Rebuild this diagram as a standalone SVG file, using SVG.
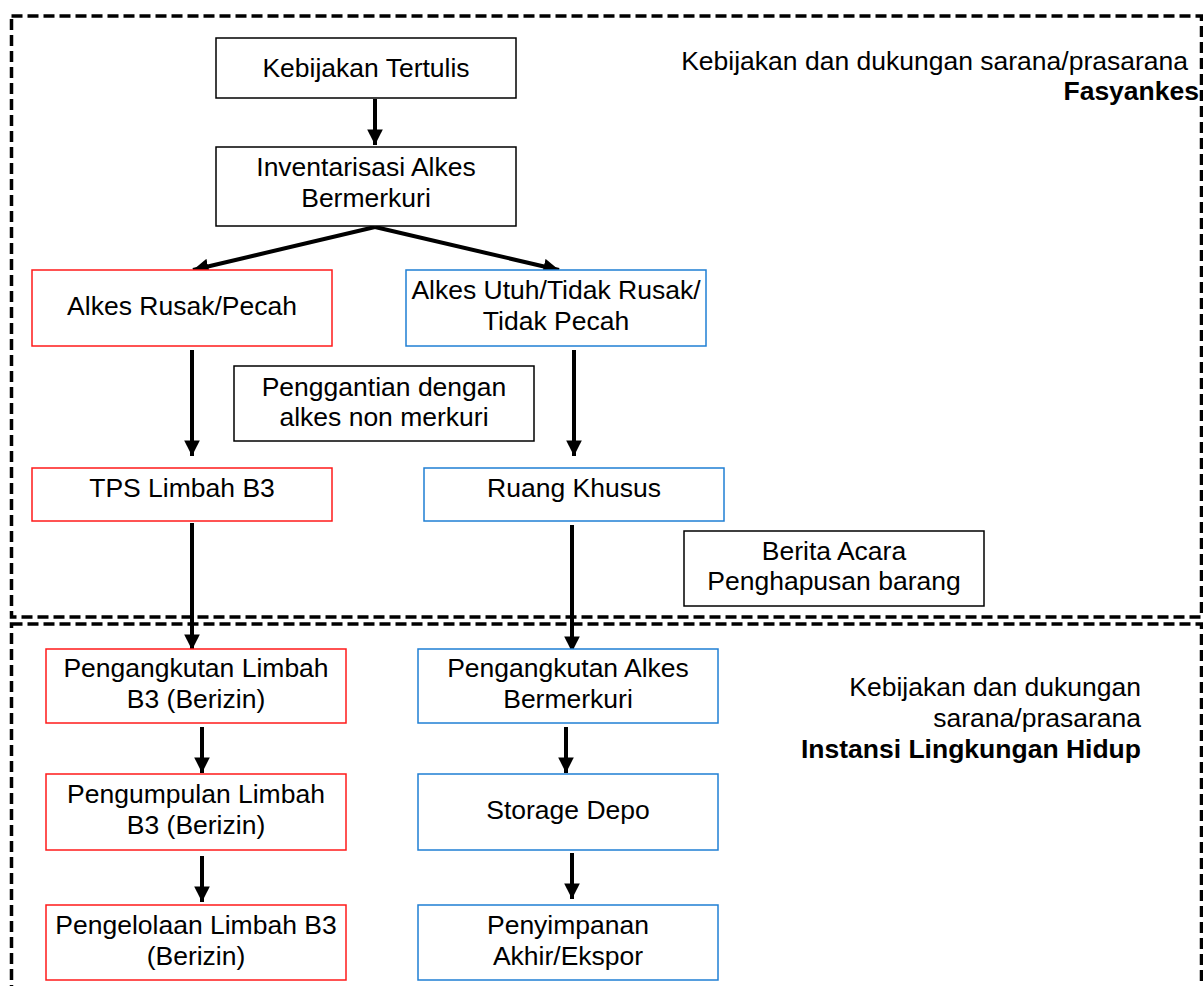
<svg xmlns="http://www.w3.org/2000/svg" width="1203" height="986" viewBox="0 0 1203 986">
<defs>
<style>
.t{font-family:"Liberation Sans",Arial,sans-serif;font-size:26.5px;fill:#000;text-anchor:middle}
.r{font-family:"Liberation Sans",Arial,sans-serif;font-size:26.5px;fill:#000;text-anchor:end}
.b{font-weight:bold}
.bk{fill:#fff;stroke:#000;stroke-width:1.5}
.rd{fill:#fff;stroke:#ff1a1a;stroke-width:1.5}
.bl{fill:#fff;stroke:#1f7fd4;stroke-width:1.5}
.frame{fill:none;stroke:#000;stroke-width:3.5;stroke-dasharray:11 5}
.ar{stroke:#000;stroke-width:4;fill:none;marker-end:url(#ah)}
</style>
<marker id="ah" viewBox="0 0 10 10" refX="10" refY="5" markerWidth="3.9" markerHeight="3.9" orient="auto" markerUnits="strokeWidth">
<path d="M0,0 L10,5 L0,10 Z" fill="#000"/>
</marker>
</defs>
<rect width="1203" height="986" fill="#fff"/>
<g id="frames">
<rect class="frame" x="11.5" y="16" width="1190" height="601"/>
<rect class="frame" x="11.5" y="624" width="1190" height="380"/>
</g>
<g id="labels">
<text class="r" x="1188" y="70">Kebijakan dan dukungan sarana/prasarana</text>
<text class="r b" x="1199" y="100">Fasyankes</text>
<text class="r" x="1141" y="696">Kebijakan dan dukungan</text>
<text class="r" x="1141" y="727">sarana/prasarana</text>
<text class="r b" x="1141" y="758">Instansi Lingkungan Hidup</text>
</g>
<g id="connectors">
<line class="ar" x1="375" y1="99" x2="375" y2="145"/>
<line class="ar" x1="375" y1="227" x2="193" y2="270"/>
<line class="ar" x1="375" y1="227" x2="559" y2="270"/>
<line class="ar" x1="192" y1="350" x2="192" y2="456"/>
<line class="ar" x1="574" y1="350" x2="574" y2="456"/>
<line class="ar" x1="192" y1="523" x2="192" y2="650"/>
<line class="ar" x1="572" y1="525" x2="572" y2="652"/>
<line class="ar" x1="202" y1="727" x2="202" y2="773"/>
<line class="ar" x1="566" y1="727" x2="566" y2="773"/>
<line class="ar" x1="202" y1="856" x2="202" y2="902"/>
<line class="ar" x1="572" y1="853" x2="572" y2="899"/>
</g>
<g id="n1"><rect class="bk" x="216" y="38" width="300" height="60"/><text class="t" x="366" y="77">Kebijakan Tertulis</text></g>
<g id="n2"><rect class="bk" x="216" y="147" width="300" height="79"/><text class="t" x="366" y="176">Inventarisasi Alkes</text><text class="t" x="366" y="207">Bermerkuri</text></g>
<g id="n3"><rect class="rd" x="32" y="270" width="300" height="76"/><text class="t" x="182" y="315">Alkes Rusak/Pecah</text></g>
<g id="n4"><rect class="bl" x="406" y="270" width="300" height="76"/><text class="t" x="556" y="299">Alkes Utuh/Tidak Rusak/</text><text class="t" x="556" y="330">Tidak Pecah</text></g>
<g id="n5"><rect class="bk" x="234" y="366" width="300" height="75"/><text class="t" x="384" y="396">Penggantian dengan</text><text class="t" x="384" y="426">alkes non merkuri</text></g>
<g id="n6"><rect class="rd" x="32" y="468" width="300" height="53"/><text class="t" x="182" y="497">TPS Limbah B3</text></g>
<g id="n7"><rect class="bl" x="424" y="468" width="300" height="53"/><text class="t" x="574" y="497">Ruang Khusus</text></g>
<g id="n8"><rect class="bk" x="684" y="531" width="300" height="75"/><text class="t" x="834" y="560">Berita Acara</text><text class="t" x="834" y="590">Penghapusan barang</text></g>
<g id="n9"><rect class="rd" x="46" y="649" width="300" height="74"/><text class="t" x="196" y="677">Pengangkutan Limbah</text><text class="t" x="196" y="708">B3 (Berizin)</text></g>
<g id="n10"><rect class="bl" x="418" y="649" width="300" height="74"/><text class="t" x="568" y="677">Pengangkutan Alkes</text><text class="t" x="568" y="708">Bermerkuri</text></g>
<g id="n11"><rect class="rd" x="46" y="774" width="300" height="76"/><text class="t" x="196" y="803">Pengumpulan Limbah</text><text class="t" x="196" y="834">B3 (Berizin)</text></g>
<g id="n12"><rect class="bl" x="418" y="774" width="300" height="76"/><text class="t" x="568" y="819">Storage Depo</text></g>
<g id="n13"><rect class="rd" x="46" y="905" width="300" height="75"/><text class="t" x="196" y="934">Pengelolaan Limbah B3</text><text class="t" x="196" y="965">(Berizin)</text></g>
<g id="n14"><rect class="bl" x="418" y="905" width="300" height="75"/><text class="t" x="568" y="934">Penyimpanan</text><text class="t" x="568" y="965">Akhir/Ekspor</text></g>
</svg>
